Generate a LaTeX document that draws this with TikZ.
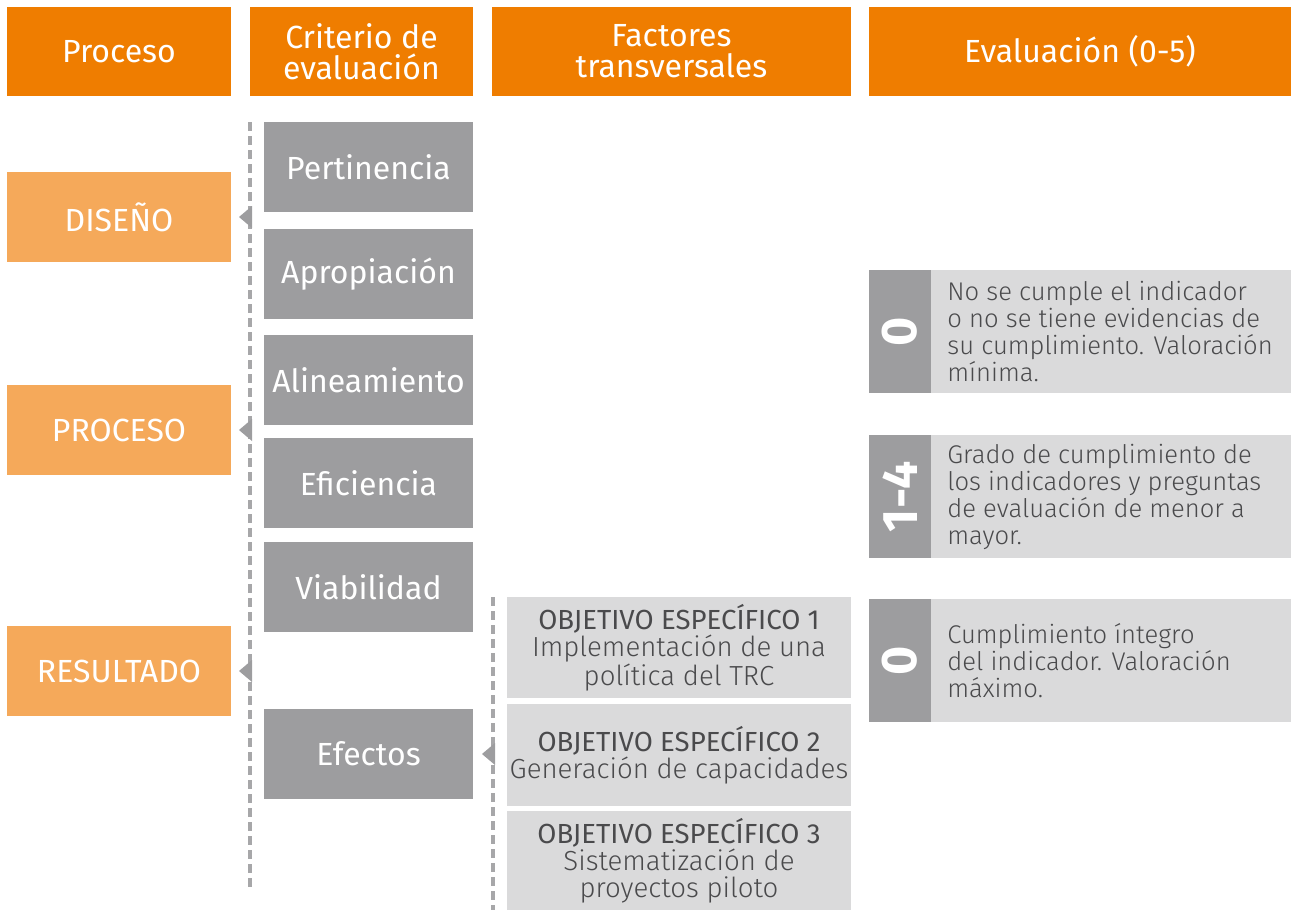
\documentclass[tikz,border=0pt]{standalone}
\usepackage{fontspec}
\setmainfont{Fira Sans}
\newfontfamily\lightfont{Fira Sans Light}
\definecolor{headorange}{HTML}{EF7D00}
\definecolor{softorange}{HTML}{F5A95A}
\definecolor{boxgray}{HTML}{9D9D9F}
\definecolor{palegray}{HTML}{DADADB}
\definecolor{inkgray}{HTML}{4A4A4C}
\definecolor{dashgray}{HTML}{A7A7A9}
\begin{document}
\begin{tikzpicture}[x=0.5pt,y=-0.5pt,
  cell/.style={anchor=north west, inner sep=0pt, outer sep=0pt, align=center},
  hdr/.style={cell, fill=headorange, text=white, font=\fontsize{16}{15.5}\selectfont},
  phase/.style={cell, fill=softorange, text=white, minimum width=112pt, minimum height=45pt, font=\fontsize{16}{15.5}\selectfont},
  crit/.style={cell, fill=boxgray, text=white, minimum width=104.5pt, minimum height=45pt, font=\fontsize{16}{15.5}\selectfont},
  goal/.style={cell, fill=palegray, text=inkgray, minimum width=172pt, font=\fontsize{13.8}{13.5}\lightfont},
  score/.style={cell, fill=boxgray, text=white, minimum width=31pt, minimum height=61.5pt},
  scoretxt/.style={cell, fill=palegray, minimum width=180pt, minimum height=61.5pt},
  guide/.style={dashgray, line width=1.7pt, dash pattern=on 4.5pt off 2.5pt},
  arrowtip/.style={fill=boxgray}
]
\useasboundingbox (0,0) rectangle (1291,910);

% cabeceras
\node[hdr, minimum width=112pt, minimum height=44.5pt] (hproc) at (7,7) {Proceso};
\node[hdr, minimum width=111.5pt, minimum height=44.5pt] (hcrit) at (250,7) {Criterio de\\evaluación};
\node[hdr, minimum width=179.5pt, minimum height=44.5pt] (hfact) at (492,7) {Factores\\transversales};
\node[hdr, minimum width=211pt, minimum height=44.5pt] (heval) at (869,7) {Evaluación (0-5)};

% procesos
\node[phase] (diseno) at (7,172) {DISEÑO};
\node[phase] (proceso) at (7,385) {PROCESO};
\node[phase] (resultado) at (7,626) {RESULTADO};

% criterios
\node[crit] (pert) at (264,122) {Pertinencia};
\node[crit] (apro) at (264,229) {Apropiación};
\node[crit] (alin) at (264,335) {Alineamiento};
\node[crit] (efic) at (264,438) {Eficiencia};
\node[crit] (viab) at (264,542) {Viabilidad};
\node[crit] (efec) at (264,709) {Efectos};

% lineas guia
\coordinate (g1top) at (250,122);
\coordinate (g1bot) at (250,890);
\coordinate (g2top) at (493,597);
\coordinate (g2bot) at (493,910);
\draw[guide] (g1top) -- (g1bot);
\draw[guide] (g2top) -- (g2bot);

% puntas
\foreach \n in {diseno,proceso,resultado}
  \fill[arrowtip] (g1top |- \n.east) ++(2,-11) -- ++(-13,11) -- ++(13,11) -- cycle;
\fill[arrowtip] (g2top |- efec.east) ++(2,-11) -- ++(-13,11) -- ++(13,11) -- cycle;

% objetivos
\node[goal, minimum height=50.5pt] (obj1) at (507,597) {{\rmfamily OBJETIVO ESPECÍFICO 1}\\Implementación de una\\política del TRC};
\node[goal, minimum height=51pt] (obj2) at (507,704) {{\rmfamily OBJETIVO ESPECÍFICO 2}\\Generación de capacidades};
\node[goal, minimum height=49.5pt] (obj3) at (507,811) {{\rmfamily OBJETIVO ESPECÍFICO 3}\\Sistematización de\\proyectos piloto};

% escala
\node[score] (s0) at (869,270) {};
\node[scoretxt] (t0) at (931,270) {};
\node[score] (s14) at (869,435) {};
\node[scoretxt] (t14) at (931,435) {};
\node[score] (s5) at (869,599) {};
\node[scoretxt] (t5) at (931,599) {};
\foreach \n/\v in {s0/0,s14/1-4,s5/0}
  \node[text=white, rotate=90, font=\fontsize{25}{25}\bfseries] at (\n.center) {\v};
\tikzset{scorelbl/.style={anchor=west, inner sep=0pt, align=left, text=inkgray, font=\fontsize{12.8}{13.5}\lightfont}}
\node[scorelbl] (l0) at (947,0 |- t0.center) {No se cumple el indicador\\o no se tiene evidencias de\\su cumplimiento. Valoración\\mínima.};
\node[scorelbl] (l14) at (947,0 |- t14.center) {Grado de cumplimiento de\\los indicadores y preguntas\\de evaluación de menor a\\mayor.};
\node[scorelbl] (l5) at (947,0 |- t5.center) {Cumplimiento íntegro\\del indicador. Valoración\\máximo.};
\end{tikzpicture}
\end{document}
